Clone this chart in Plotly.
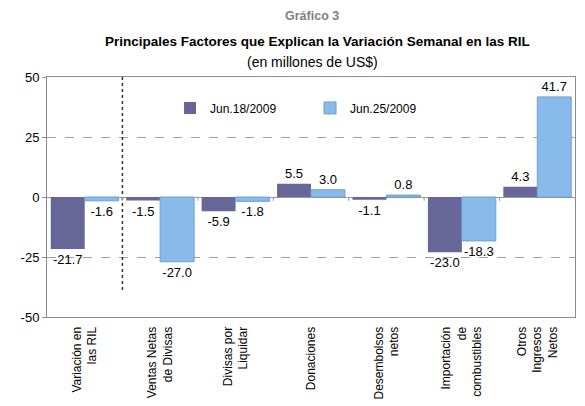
import plotly.graph_objects as go

categories = [
    "Variación en<br>las RIL",
    "Ventas Netas<br>de Divisas",
    "Divisas por<br>Liquidar",
    "Donaciones",
    "Desembolsos<br>netos",
    "Importación<br>de<br>combustibles",
    "Otros<br>Ingresos<br>Netos",
]
jun18 = [-21.7, -1.5, -5.9, 5.5, -1.1, -23.0, 4.3]
jun25 = [-1.6, -27.0, -1.8, 3.0, 0.8, -18.3, 41.7]
yticks = [-50, -25, 0, 25, 50]

FONT = "Liberation Sans, Arial, sans-serif"

fig = go.Figure()
fig.add_trace(go.Bar(
    x=categories, y=jun18, name="Jun.18/2009",
    marker=dict(color="#666699", line=dict(width=0)),
    text=[f"{v:.1f}" for v in jun18], textposition="outside",
    textfont=dict(size=13, color="#000000", family=FONT), cliponaxis=False,
))
fig.add_trace(go.Bar(
    x=categories, y=jun25, name="Jun.25/2009",
    marker=dict(color="#88BAEA", line=dict(color="#6F9FCF", width=1)),
    text=[f"{v:.1f}" for v in jun25], textposition="outside",
    textfont=dict(size=13, color="#000000", family=FONT), cliponaxis=False,
))

# dotted separator after first category
fig.add_shape(type="line", xref="x", yref="y", x0=0.5, x1=0.5, y0=50, y1=-40,
              line=dict(color="#333333", width=1.5, dash="dot"))
# category tick marks on the zero line
for i in range(len(categories) - 1):
    fig.add_shape(type="line", xref="x", yref="y", x0=i + 0.5, x1=i + 0.5, y0=0, y1=-1.6,
                  line=dict(color="#999999", width=1))

fig.update_layout(
    width=577, height=398,
    margin=dict(l=39, r=10, t=69, b=89),
    paper_bgcolor="white", plot_bgcolor="white",
    font=dict(family=FONT, size=13, color="#000000"),
    barmode="group", bargap=0.1, bargroupgap=0.0,
    showlegend=True,
    legend=dict(orientation="h", x=0.233, y=0.871, xanchor="left", yanchor="middle",
                font=dict(size=12), bgcolor="rgba(0,0,0,0)",
                itemwidth=30, entrywidth=95),
)
fig.update_yaxes(range=[-50, 50], tickvals=yticks, ticktext=[str(v) for v in yticks],
                 showgrid=True, gridcolor="#A0A0A0", griddash="dash", gridwidth=1,
                 zeroline=True, zerolinecolor="#999999", zerolinewidth=1,
                 showline=True, linecolor="#8C8C8C", mirror=True,
                 ticks="outside", ticklen=4, tickcolor="#8C8C8C",
                 tickfont=dict(size=13))
fig.update_xaxes(tickangle=-90, showline=True, linecolor="#8C8C8C", mirror=True,
                 automargin=False, tickfont=dict(size=12),
                 ticks="outside", ticklen=4, tickcolor="rgba(0,0,0,0)")

fig.add_annotation(text="<b>Gráfico 3</b>", xref="paper", yref="paper", x=0.502, y=1.255,
                   yanchor="middle", showarrow=False, font=dict(size=12.5, color="#808080"))
fig.add_annotation(text="<b>Principales Factores que Explican la Variación Semanal en las RIL</b>",
                   xref="paper", yref="paper", x=0.513, y=1.146, yanchor="middle",
                   showarrow=False, font=dict(size=13.5, color="#000000"))
fig.add_annotation(text="(en millones de US$)", xref="paper", yref="paper", x=0.502, y=1.0625,
                   yanchor="middle", showarrow=False, font=dict(size=14, color="#000000"))

fig.write_html("out.html")
